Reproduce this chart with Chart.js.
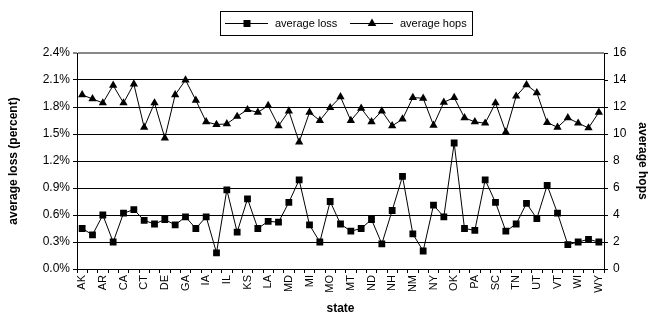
<!DOCTYPE html>
<html><head><meta charset="utf-8">
<script src="https://cdn.jsdelivr.net/npm/chart.js@4"></script>
<style>html,body{margin:0;padding:0;background:#fff}</style>
</head><body>
<canvas id="c" width="650" height="316"></canvas>
<script>
const states = ['AK','AL','AR','AZ','CA','CO','CT','DC','DE','FL','GA','HI','IA','ID','IL','IN','KS','KY','LA','MA','MD','ME','MI','MN','MO','MS','MT','NC','ND','NE','NH','NJ','NM','NV','NY','OH','OK','OR','PA','RI','SC','SD','TN','TX','UT','VA','VT','WA','WI','WV','WY'];
const averageLoss = [0.45,0.38,0.60,0.30,0.62,0.66,0.54,0.50,0.55,0.49,0.58,0.45,0.58,0.18,0.88,0.41,0.78,0.45,
  0.53,0.52,0.74,0.99,0.49,0.30,0.75,0.50,0.42,0.45,0.55,0.28,0.65,1.03,0.39,0.20,0.71,
  0.58,1.40,0.45,0.43,0.99,0.74,0.42,0.50,0.73,0.56,0.93,0.62,0.27,0.30,0.33,0.30];
const averageHops = [12.9,12.6,12.3,13.6,12.3,13.7,10.5,12.3,9.7,12.9,14.0,12.5,10.9,10.7,10.75,11.3,11.8,11.6,
  12.1,10.6,11.7,9.4,11.6,11.0,11.95,12.75,11.0,11.9,10.9,11.7,10.6,11.1,12.7,12.65,10.65,
  12.35,12.7,11.2,10.9,10.8,12.3,10.15,12.8,13.65,13.05,10.85,10.5,11.2,10.8,10.45,11.6];
const lossAxis = {min: 0, max: 2.4, step: 0.3};
const hopsAxis = {min: 0, max: 16, step: 2};

const FONT = '"Liberation Sans", Arial, sans-serif';

const boxLegend = {
  id: 'boxLegend',
  afterDraw(chart) {
    const ctx = chart.ctx;
    ctx.save();
    ctx.strokeStyle = '#000';
    ctx.lineWidth = 1;
    ctx.strokeRect(220.5, 11.5, 252, 24);
    const y = 23.5;
    const starts = [225, 350];
    chart.data.datasets.forEach((ds, i) => {
      const x0 = starts[i];
      ctx.beginPath(); ctx.moveTo(x0, y); ctx.lineTo(x0 + 43, y); ctx.stroke();
      const cx = x0 + 22;
      ctx.fillStyle = '#000';
      if (ds.pointStyle === 'rect') {
        ctx.fillRect(cx - 3.5, y - 3.5, 7, 7);
      } else {
        ctx.beginPath();
        ctx.moveTo(cx, y - 5);
        ctx.lineTo(cx + 4.3, y + 2.5);
        ctx.lineTo(cx - 4.3, y + 2.5);
        ctx.closePath(); ctx.fill();
      }
      ctx.font = '11px ' + FONT;
      ctx.textBaseline = 'middle';
      ctx.textAlign = 'left';
      ctx.fillText(ds.label, x0 + 50, y);
    });
    ctx.restore();
  }
};

new Chart(document.getElementById('c'), {
  type: 'line',
  data: {
    labels: states,
    datasets: [
      {label: 'average loss', data: averageLoss, yAxisID: 'y', borderColor: '#000', backgroundColor: '#000',
       borderWidth: 1, pointStyle: 'rect', pointRadius: 4.8, pointBorderWidth: 0, tension: 0},
      {label: 'average hops', data: averageHops, yAxisID: 'y1', borderColor: '#000', backgroundColor: '#000',
       borderWidth: 1, pointStyle: 'triangle', pointRadius: 4.8, pointBorderWidth: 0, tension: 0}
    ]
  },
  options: {
    responsive: false,
    animation: false,
    layout: {padding: {top: 53, left: 0, right: 0, bottom: 0}},
    plugins: {legend: {display: false}, tooltip: {enabled: false}},
    scales: {
      x: {
        offset: true,
        grid: {offset: true, drawOnChartArea: false, drawTicks: true, tickLength: 4, color: '#000'},
        border: {display: true, color: '#000', width: 1},
        ticks: {autoSkip: false, minRotation: 90, maxRotation: 90, padding: 2, color: '#000',
          font: {family: FONT, size: 11},
          callback: (v, i) => (i % 2 === 0 ? states[i] : '')},
        title: {display: true, text: 'state', color: '#000', font: {family: FONT, size: 12, weight: 'bold'}, padding: {top: 6, bottom: 0}},
        afterFit: s => { s.height = 47; }
      },
      y: {
        position: 'left',
        min: lossAxis.min, max: lossAxis.max,
        grid: {drawTicks: true, tickLength: 4,
          color: c => (c.index === 8 ? '#888' : '#000'),
          lineWidth: c => (c.index === 8 ? 2 : 1)},
        border: {display: true, color: '#000', width: 1},
        ticks: {stepSize: lossAxis.step, padding: 3, color: '#000', font: {family: FONT, size: 12},
          callback: v => v.toFixed(1) + '%'},
        title: {display: true, text: 'average loss (percent)', color: '#000', font: {family: FONT, size: 12, weight: 'bold'}, padding: {top: 6, bottom: 0}},
        afterFit: s => { s.width = 77; }
      },
      y1: {
        position: 'right',
        min: hopsAxis.min, max: hopsAxis.max,
        grid: {drawOnChartArea: false, drawTicks: true, tickLength: 4, color: '#000'},
        border: {display: true, color: '#000', width: 1},
        ticks: {stepSize: hopsAxis.step, padding: 5, color: '#000', font: {family: FONT, size: 12}},
        title: {display: true, text: 'average hops', color: '#000', font: {family: FONT, size: 12, weight: 'bold'}, padding: {top: 0, bottom: 0}},
        afterFit: s => { s.width = 46; }
      }
    }
  },
  plugins: [boxLegend]
});
</script>
</body></html>
